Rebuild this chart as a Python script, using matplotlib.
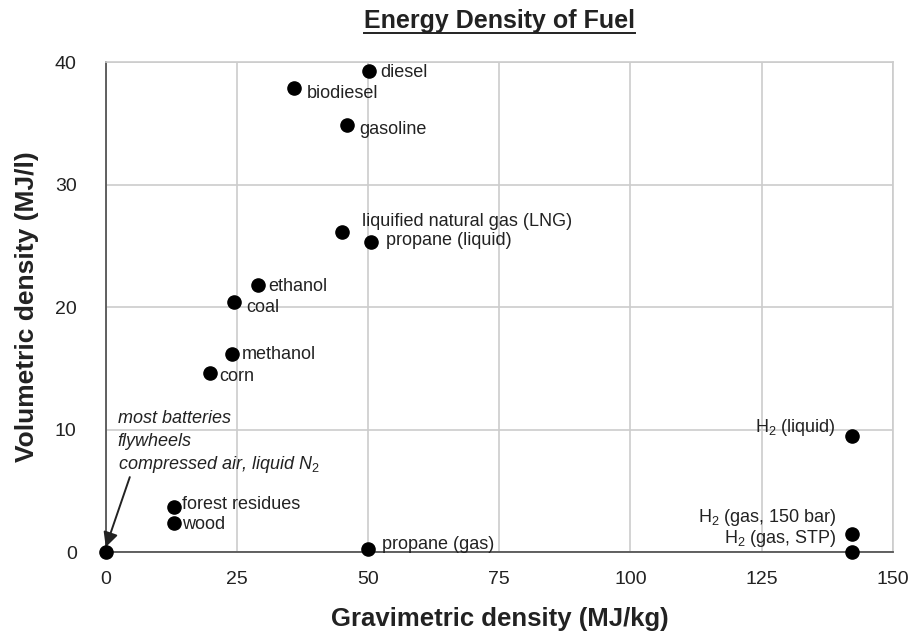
import matplotlib
matplotlib.use("Agg")
import matplotlib.pyplot as plt
from matplotlib.lines import Line2D

plt.rcParams['font.family'] = ['Liberation Sans', 'DejaVu Sans']
plt.rcParams['mathtext.fontset'] = 'custom'
plt.rcParams['mathtext.rm'] = 'Liberation Sans'
plt.rcParams['mathtext.it'] = 'Liberation Sans:italic'

fuels = ["diesel", "biodiesel", "gasoline", "liquified natural gas (LNG)", "propane (liquid)",
         "ethanol", "coal", "methanol", "corn", "H$_2$ (liquid)", "H$_2$ (gas, 150 bar)",
         "H$_2$ (gas, STP)", "forest residues", "wood", "propane (gas)", ""]
gravimetric = [50.2, 35.9, 46.0, 45.0, 50.6, 29.0, 24.4, 24.0, 19.8, 142.2, 142.2, 142.2,
               13.0, 13.0, 50.0, 0.0]
volumetric = [39.3, 37.9, 34.9, 26.1, 25.3, 21.8, 20.4, 16.2, 14.6, 9.5, 1.5, 0.0,
              3.7, 2.4, 0.25, 0.0]
x_ticks = [0, 25, 50, 75, 100, 125, 150]
y_ticks = [0, 10, 20, 30, 40]
note = ["most batteries", "flywheels", "compressed air, liquid N$_2$"]

# label offsets in pixels (dx, dy, ha)
offsets = [(11, -2, 'left'), (13, -6, 'left'), (12, -5, 'left'), (20, 11, 'left'),
           (15, 2, 'left'), (10, -2, 'left'), (12, -5, 'left'), (10, -1, 'left'),
           (10, -3, 'left'), (-16, 8, 'right'), (-15, 16, 'right'), (-15, 14, 'right'),
           (8, 2, 'left'), (8, -2, 'left'), (14, 4, 'left'), (0, 0, 'left')]

fig = plt.figure(figsize=(9.12, 6.43), dpi=100)
ax = fig.add_axes([0.116, 0.1415, 0.863, 0.762])
ax.scatter(gravimetric, volumetric, s=90, color='black', zorder=5, clip_on=False)
for name, gx, vy, (dx, dy, ha) in zip(fuels, gravimetric, volumetric, offsets):
    if name:
        ax.annotate(name, (gx, vy), xytext=(dx, dy), textcoords='offset pixels',
                    ha=ha, va='center', fontsize=13, color='#222222')

ax.set_xlim(0, 150)
ax.set_ylim(0, 40)
ax.set_xticks(x_ticks)
ax.set_yticks(y_ticks)
ax.grid(True, color='#cccccc', linewidth=1.2)
ax.set_axisbelow(True)
for s in ['top', 'right']:
    ax.spines[s].set_color('#cccccc')
    ax.spines[s].set_linewidth(1.2)
for s in ['left', 'bottom']:
    ax.spines[s].set_color('#555555')
    ax.spines[s].set_linewidth(1.3)
ax.tick_params(length=0, labelsize=14, colors='#222222')
ax.tick_params(axis='y', pad=21)
ax.tick_params(axis='x', pad=14)
ax.set_xlabel('Gravimetric density (MJ/kg)', fontsize=18.5, fontweight='bold', labelpad=13, color='#222222')
ax.set_ylabel('Volumetric density (MJ/l)', fontsize=19, fontweight='bold', labelpad=11, color='#222222')

# italic note lines
for i, line in enumerate(note):
    ax.annotate(line, xy=(0, 0), xytext=(12, 134 - 23 * i), textcoords='offset pixels',
                ha='left', va='center', fontsize=13, style='italic', color='#222222')
ax.annotate('', xy=(0, 0.4), xytext=(24, 70), textcoords='offset pixels',
            arrowprops=dict(arrowstyle='-|>', color='#222222', lw=1.4, mutation_scale=22,
                            shrinkA=0, shrinkB=0))

title = fig.text(0.548, 0.968, 'Energy Density of Fuel', ha='center', va='center',
                 fontsize=18, fontweight='bold', color='#222222')
fig.canvas.draw()
bb = title.get_window_extent().transformed(fig.transFigure.inverted())
fig.add_artist(Line2D([bb.x0, bb.x1], [bb.y0 - 0.001, bb.y0 - 0.001], color='#222222', lw=1.4,
                      transform=fig.transFigure))

fig.savefig('out.png', dpi=100)
